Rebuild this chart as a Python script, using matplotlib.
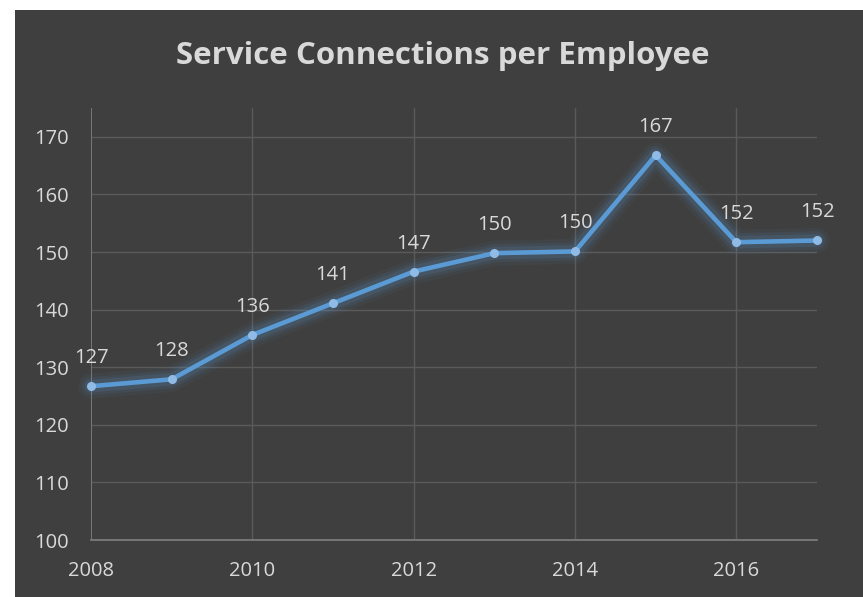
import matplotlib.pyplot as plt
from matplotlib.patches import Rectangle

years = [2008, 2009, 2010, 2011, 2012, 2013, 2014, 2015, 2016, 2017]
connections = [126.7, 127.9, 135.6, 141.1, 146.6, 149.8, 150.1, 166.8, 151.7, 152.0]
labels = ["127", "128", "136", "141", "147", "150", "150", "167", "152", "152"]

BG = "#3f3f3f"
TXT = "#d9d9d9"
LINE = "#5b9bd5"

W, H = 863, 597
fig = plt.figure(figsize=(W / 100, H / 100), dpi=100)
fig.patch.set_facecolor("white")
fig.patches.append(Rectangle((15 / W, 0), 1, 1 - 10 / H, transform=fig.transFigure,
                             facecolor=BG, edgecolor="none", zorder=-10))

ax = fig.add_axes([91 / W, 57 / H, (817 - 91) / W, (540 - 108) / H])
ax.set_facecolor(BG)
ax.set_xlim(2008, 2017)
ax.set_ylim(100, 175)
ax.set_xticks([2008, 2010, 2012, 2014, 2016])
ax.set_yticks(range(100, 171, 10))

for s in ["top", "right", "left"]:
    ax.spines[s].set_visible(False)
ax.spines["bottom"].set_color("#808080")
ax.spines["bottom"].set_linewidth(1.2)

# gridlines, drawn by hand so they stop at the 170 line
for y in range(110, 171, 10):
    ax.axhline(y, color="#5a5a5a", lw=1, zorder=1)
for x in [2008, 2010, 2012, 2014, 2016]:
    ax.axvline(x, color="#5a5a5a" if x != 2008 else "#808080", lw=1.2 if x == 2008 else 1, zorder=1)

ax.tick_params(length=0, colors=TXT, labelsize=14.5)
ax.tick_params(axis="y", pad=16)
ax.tick_params(axis="x", pad=15)
for t in ax.get_xticklabels() + ax.get_yticklabels():
    t.set_fontfamily("Open Sans")

# soft glow under the line
for lw, a in [(18, 0.06), (13, 0.09), (9, 0.13)]:
    ax.plot(years, connections, color=LINE, lw=lw, alpha=a, solid_capstyle="round",
            solid_joinstyle="round", zorder=2, clip_on=False)
ax.plot(years, connections, color=LINE, lw=3.3, zorder=3, clip_on=False,
        marker="o", ms=5.5, mfc="#8fbbe6", mec="#8fbbe6", solid_joinstyle="round")

for x, y, lab in zip(years, connections, labels):
    ax.annotate(lab, (x, y), xytext=(0, 13), textcoords="offset points", ha="center",
                va="bottom", color=TXT, fontsize=14.5, family="Open Sans", zorder=4)

fig.text(443 / W, 1 - 56 / H, "Service Connections per Employee", ha="center", va="center",
         color=TXT, fontsize=22.5, fontweight="bold", family="Open Sans")

fig.savefig("out.png", dpi=100, facecolor=fig.get_facecolor())
